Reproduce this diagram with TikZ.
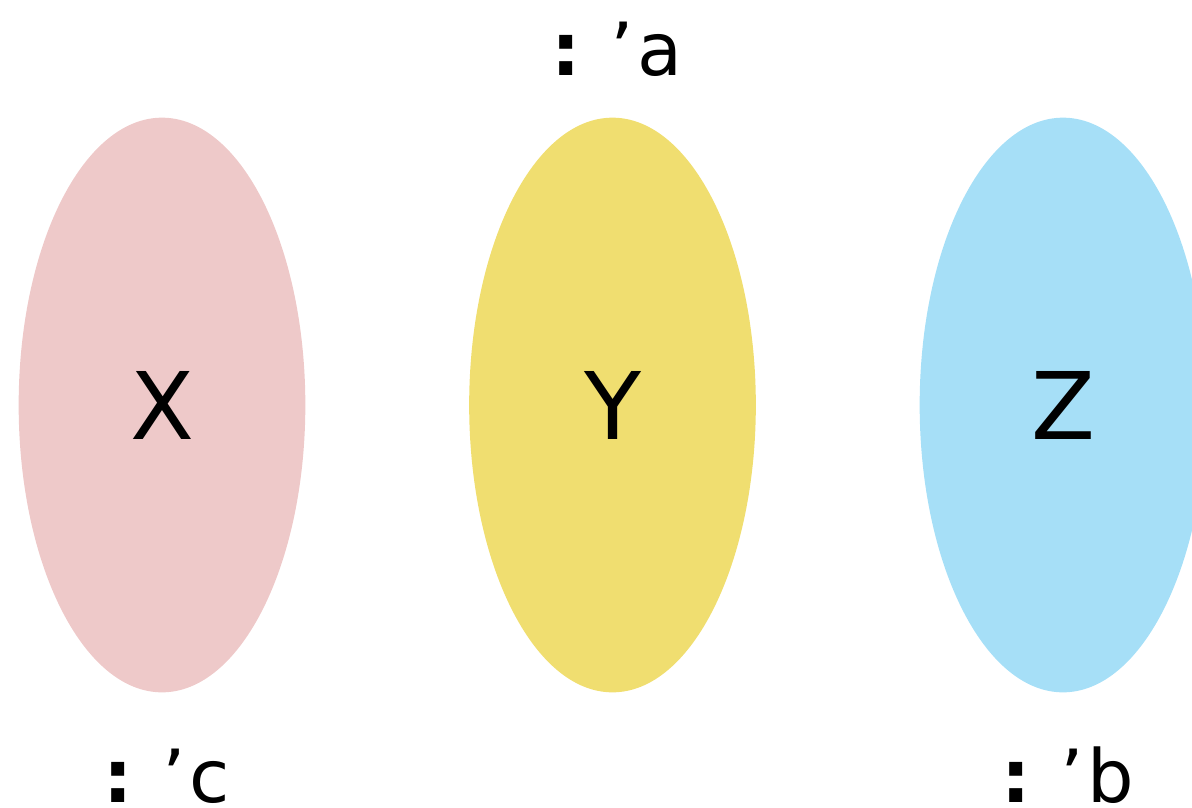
\documentclass[tikz,border=0pt]{standalone}
\usepackage{fontspec}
\setmainfont{DejaVu Sans}
\usetikzlibrary{shapes.geometric}
\definecolor{pinkx}{RGB}{238,201,201}
\definecolor{yellowy}{RGB}{240,222,112}
\definecolor{bluez}{RGB}{166,223,247}
\newcommand{\qlab}[1]{{\bfseries:}\hspace{0.4em}’\kern0.06em#1}
\begin{document}
\begin{tikzpicture}[x=0.75pt,y=-0.75pt,
  blob/.style={ellipse, minimum width=215pt, minimum height=431pt, inner sep=0pt, draw=none,
    font=\fontsize{70}{84}\selectfont},
  lab/.style={anchor=base, inner sep=0pt, font=\fontsize{55}{66}\selectfont}]
\useasboundingbox (0,0) rectangle (1192,807);
\begin{scope}
\clip (0,0) rectangle (1192,807);
\node[blob, fill=pinkx] (x) at (162,405) {X};
\node[blob, fill=yellowy] (y) at (612.5,405) {Y};
\node[blob, fill=bluez] (z) at (1063,405) {Z};
\node[lab] (la) at (617,75) {\qlab{a}};
\node[lab] (lc) at (167,802) {\qlab{c}};
\node[lab] (lb) at (1068,802) {\qlab{b}};
\end{scope}
\end{tikzpicture}
\end{document}
